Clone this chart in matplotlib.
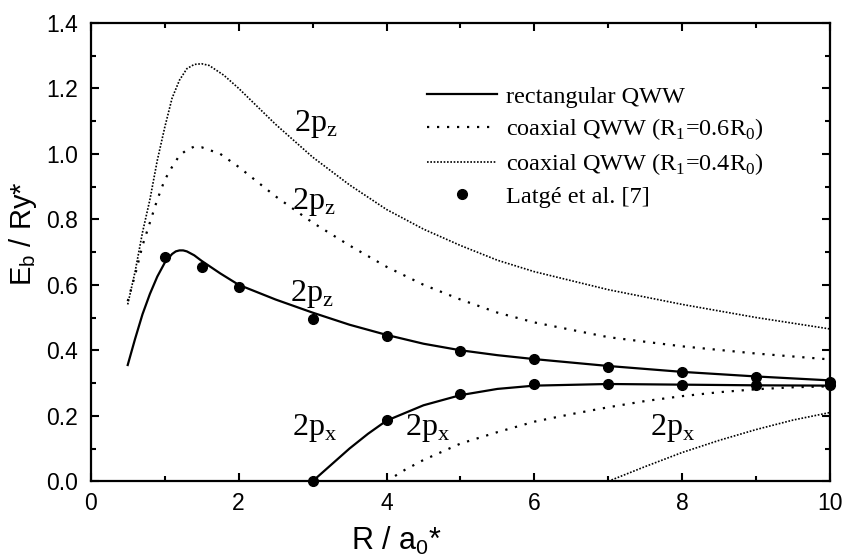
import numpy as np
from matplotlib import pyplot as plt
from matplotlib.ticker import MultipleLocator, FuncFormatter

# rectangular QWW
rect_z_x = [0.5, 0.6, 0.7, 0.8, 0.9, 1.0, 1.1, 1.15, 1.2, 1.25, 1.3, 1.4, 1.5, 1.75, 2.0, 2.5, 3.0, 3.5, 4.0, 4.5, 5.0, 5.5, 6.0, 7.0, 8.0, 9.0, 10.0]
rect_z_y = [0.355, 0.435, 0.51, 0.572, 0.625, 0.667, 0.694, 0.702, 0.705, 0.705, 0.702, 0.69, 0.673, 0.635, 0.60, 0.555, 0.515, 0.478, 0.447, 0.42, 0.40, 0.385, 0.373, 0.352, 0.334, 0.32, 0.308]
rect_x_x = [3.0, 3.25, 3.5, 3.75, 4.0, 4.5, 5.0, 5.5, 6.0, 7.0, 8.0, 9.0, 10.0]
rect_x_y = [0.0, 0.05, 0.10, 0.145, 0.185, 0.232, 0.263, 0.282, 0.292, 0.297, 0.295, 0.293, 0.292]

# coaxial QWW, R1 = 0.6 R0
co6_z_x = [0.5, 0.6, 0.7, 0.8, 0.9, 1.0, 1.1, 1.2, 1.3, 1.4, 1.5, 1.75, 2.0, 2.5, 3.0, 3.5, 4.0, 4.5, 5.0, 5.5, 6.0, 7.0, 8.0, 9.0, 10.0]
co6_z_y = [0.55, 0.63, 0.72, 0.79, 0.86, 0.92, 0.96, 0.995, 1.012, 1.022, 1.02, 1.0, 0.96, 0.87, 0.79, 0.72, 0.655, 0.60, 0.555, 0.515, 0.485, 0.44, 0.412, 0.39, 0.372]
co6_x_x = [4.0, 4.25, 4.5, 5.0, 5.5, 6.0, 6.5, 7.0, 7.5, 8.0, 8.5, 9.0, 9.5, 10.0]
co6_x_y = [0.0, 0.035, 0.065, 0.115, 0.15, 0.182, 0.205, 0.226, 0.245, 0.26, 0.272, 0.281, 0.287, 0.29]

# coaxial QWW, R1 = 0.4 R0
co4_z_x = [0.5, 0.6, 0.7, 0.8, 0.9, 1.0, 1.1, 1.2, 1.3, 1.4, 1.5, 1.6, 1.8, 2.0, 2.5, 3.0, 3.5, 4.0, 4.5, 5.0, 5.5, 6.0, 7.0, 8.0, 9.0, 10.0]
co4_z_y = [0.54, 0.64, 0.76, 0.86, 0.98, 1.08, 1.17, 1.225, 1.26, 1.273, 1.275, 1.27, 1.24, 1.2, 1.09, 0.99, 0.905, 0.83, 0.77, 0.72, 0.675, 0.64, 0.585, 0.54, 0.50, 0.465]
co4_x_x = [7.0, 7.5, 8.0, 8.5, 9.0, 9.5, 10.0]
co4_x_y = [0.0, 0.045, 0.088, 0.125, 0.158, 0.187, 0.21]

# Latge et al. [7]
latge_z_x = [1, 1.5, 2, 3, 4, 5, 6, 7, 8, 9, 10]
latge_z_y = [0.685, 0.655, 0.594, 0.497, 0.443, 0.398, 0.372, 0.348, 0.333, 0.318, 0.303]
latge_x_x = [3, 4, 5, 6, 7, 8, 9, 10]
latge_x_y = [0.0, 0.188, 0.265, 0.296, 0.298, 0.295, 0.295, 0.293]

SERIF = 'Liberation Serif'
SANS = 'Liberation Sans'

fig = plt.figure(figsize=(8.48, 5.57), dpi=100)
ax = fig.add_axes([0.107, 0.136, 0.872, 0.823])

ax.plot(rect_z_x, rect_z_y, color='black', lw=1.6, label='rectangular QWW')
ax.plot(rect_x_x, rect_x_y, color='black', lw=1.6)
ax.plot(co6_z_x, co6_z_y, color='black', lw=1.6, linestyle=(0, (1, 3.5)),
        label='coaxial QWW (R$_\\mathregular{1}$=0.6R$_\\mathregular{0}$)')
ax.plot(co6_x_x, co6_x_y, color='black', lw=1.6, linestyle=(0, (1, 3.5)))
ax.plot(co4_z_x, co4_z_y, color='black', lw=1.2, linestyle=(0, (1, 1)),
        label='coaxial QWW (R$_\\mathregular{1}$=0.4R$_\\mathregular{0}$)')
ax.plot(co4_x_x, co4_x_y, color='black', lw=1.2, linestyle=(0, (1, 1)))
ax.plot(latge_z_x, latge_z_y, 'o', color='black', ms=7, label='Latgé et al. [7]', clip_on=False)
ax.plot(latge_x_x, latge_x_y, 'o', color='black', ms=7, clip_on=False)

txt = dict(family=SERIF, fontsize=23, color='black')
ax.text(2.75, 1.07, '2p$_\\mathregular{z}$', **txt)
ax.text(2.72, 0.83, '2p$_\\mathregular{z}$', **txt)
ax.text(2.70, 0.55, '2p$_\\mathregular{z}$', **txt)
ax.text(2.72, 0.14, '2p$_\\mathregular{x}$', **txt)
ax.text(4.25, 0.14, '2p$_\\mathregular{x}$', **txt)
ax.text(7.56, 0.14, '2p$_\\mathregular{x}$', **txt)

ax.set_xlim(0, 10)
ax.set_ylim(0, 1.4)
ax.xaxis.set_major_locator(MultipleLocator(2))
ax.xaxis.set_minor_locator(MultipleLocator(1))
ax.yaxis.set_major_locator(MultipleLocator(0.2))
ax.yaxis.set_minor_locator(MultipleLocator(0.1))
ax.yaxis.set_major_formatter(FuncFormatter(lambda v, p: '%.1f' % v))
ax.tick_params(which='both', direction='in', top=True, right=True, width=1.5,
               labelsize=16.5, labelfontfamily=SANS)
ax.tick_params(which='major', length=6)
ax.tick_params(axis='x', which='major', pad=8)
ax.tick_params(axis='y', which='major', pad=9)
ax.tick_params(which='minor', length=3.5)
for s in ax.spines.values():
    s.set_linewidth(1.6)

ax.set_xlabel('R / a$_\\mathregular{0}$*', fontsize=22, family=SANS)
ax.set_ylabel('E$_\\mathregular{b}$ / Ry*', fontsize=21, family=SANS)
ax.yaxis.set_label_coords(-0.07, 0.54)
ax.xaxis.set_label_coords(0.413, -0.095)

leg = ax.legend(loc='upper left', bbox_to_anchor=(0.441, 0.884), frameon=False,
                prop={'family': SERIF, 'size': 17.5}, handlelength=2.9,
                handletextpad=0.37, labelspacing=0.36, numpoints=1, borderaxespad=0)

fig.savefig('out.png', dpi=100)
